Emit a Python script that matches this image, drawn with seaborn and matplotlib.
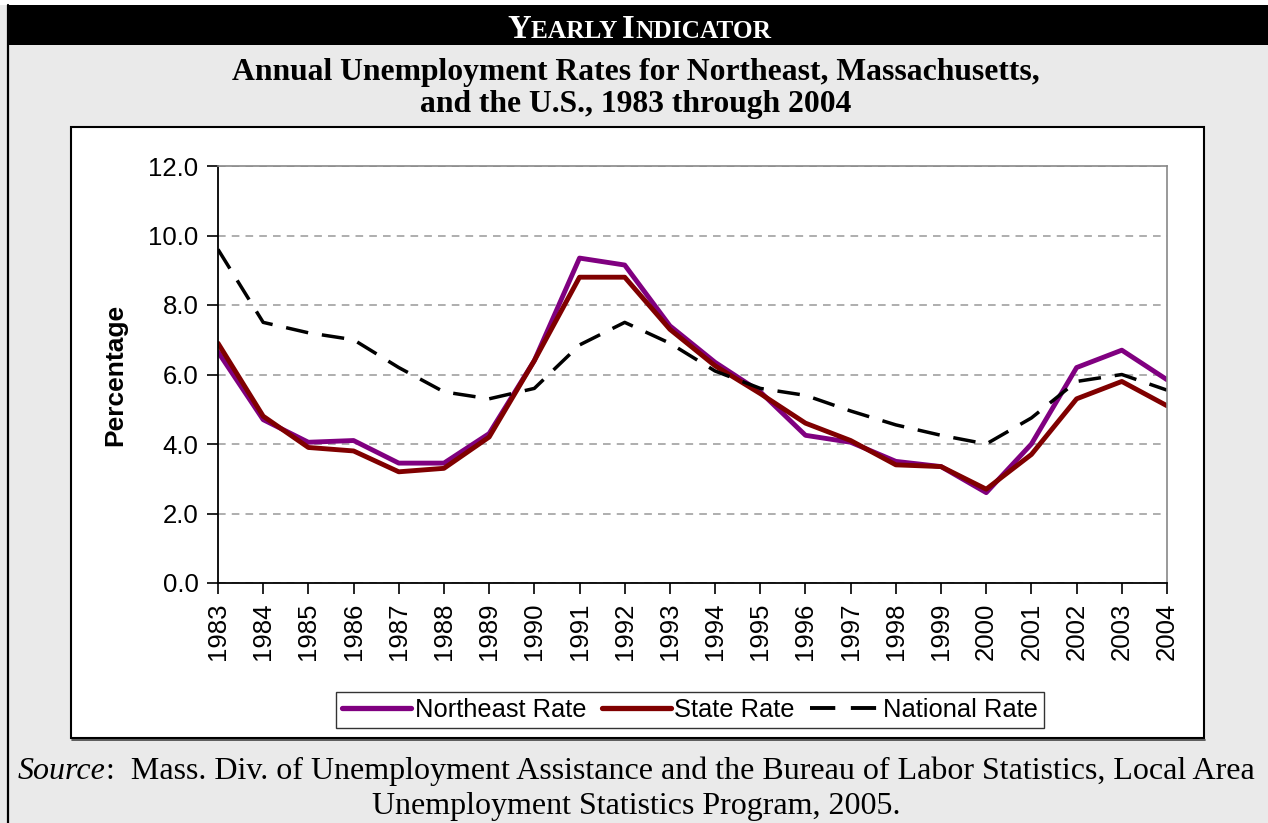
import matplotlib
matplotlib.use("Agg")
import matplotlib.pyplot as plt
from matplotlib.patches import Rectangle
from matplotlib.lines import Line2D
import seaborn as sns
import pandas as pd

# data
years = list(range(1983, 2005))
northeast = [6.65, 4.7, 4.05, 4.1, 3.45, 3.45, 4.3, 6.4, 9.35, 9.15, 7.4, 6.35, 5.5, 4.25,
             4.05, 3.5, 3.35, 2.6, 4.0, 6.2, 6.7, 5.85]
state = [6.9, 4.8, 3.9, 3.8, 3.2, 3.3, 4.2, 6.4, 8.8, 8.8, 7.3, 6.25, 5.45, 4.6,
         4.1, 3.4, 3.35, 2.7, 3.7, 5.3, 5.8, 5.1]
national = [9.6, 7.5, 7.2, 7.0, 6.2, 5.5, 5.3, 5.6, 6.85, 7.5, 6.9, 6.1, 5.6, 5.4,
            4.95, 4.55, 4.25, 4.0, 4.75, 5.8, 6.0, 5.55]
series_names = ["Northeast Rate", "State Rate", "National Rate"]
y_ticks = [0, 2, 4, 6, 8, 10, 12]

df = pd.DataFrame({"year": years * 3,
                   "rate": northeast + state + national,
                   "series": sum([[n] * len(years) for n in series_names], [])})

sns.set_style("white")
plt.rcParams["font.family"] = ["Liberation Sans", "DejaVu Sans"]
plt.rcParams.update({"text.color": "black", "axes.labelcolor": "black",
                     "xtick.color": "black", "ytick.color": "black"})

W, H = 1268, 823
fig = plt.figure(figsize=(W / 100, H / 100), dpi=100)
fig.patch.set_facecolor("#EAEAEA")


def px(x, y):
    return x / W, 1 - y / H


# frame pieces: white strip on top, black header bar, left rule, white chart box
fig.patches.append(Rectangle((0, 1 - 5 / H), 1, 5 / H, transform=fig.transFigure,
                             facecolor="white", edgecolor="none", zorder=0))
fig.patches.append(Rectangle(px(8, 45), 1 - 8 / W, 40 / H, transform=fig.transFigure,
                             facecolor="black", edgecolor="none", zorder=0))
fig.lines.append(Line2D([8 / W, 8 / W], [0, 1 - 5 / H], transform=fig.transFigure,
                        color="black", lw=1.6))
fig.patches.append(Rectangle(px(71, 738), (1204 - 71) / W, (738 - 127) / H,
                             transform=fig.transFigure, facecolor="white",
                             edgecolor="black", lw=1.5, zorder=0))
# slightly heavier shadow line under the box
fig.lines.append(Line2D([72 / W, 1205 / W], [1 - 739.5 / H, 1 - 739.5 / H],
                        transform=fig.transFigure, color="#444444", lw=1.2))

ax = fig.add_axes([218 / W, 1 - 583 / H, (1167 - 218) / W, (583 - 166) / H])
ax.set_zorder(3)
ax.set_facecolor("white")

palette = {"Northeast Rate": "#800080", "State Rate": "#800000", "National Rate": "black"}
sns.lineplot(data=df[df.series != "National Rate"], x="year", y="rate", hue="series",
             palette=palette, lw=3.5, ax=ax, legend=False)
sns.lineplot(data=df[df.series == "National Rate"], x="year", y="rate", color="black",
             lw=2.5, dashes=False, ax=ax, legend=False)
ax.lines[-1].set_dashes((6.5, 4))

ax.set_xlim(1983, 2004)
ax.set_ylim(0, 12)
ax.set_xticks(years)
ax.set_xticklabels([str(y) for y in years], rotation=90, fontsize=18.5)
ax.set_yticks(y_ticks)
ax.set_yticklabels([f"{v:.1f}" for v in y_ticks], fontsize=18.5)
ax.tick_params(axis="both", direction="out", length=8, width=1.2, color="black",
               left=True, bottom=True, pad=6)
ax.set_xlabel("")
ax.set_ylabel("Percentage", fontsize=19, fontweight="bold", labelpad=15)
ax.yaxis.grid(True, color="#999999", ls=(0, (5, 4)), lw=1.1)
ax.xaxis.grid(False)
ax.set_axisbelow(True)
for side in ["left", "bottom"]:
    ax.spines[side].set_color("black")
    ax.spines[side].set_linewidth(1.3)
for side in ["top", "right"]:
    ax.spines[side].set_color("#888888")
    ax.spines[side].set_linewidth(1.2)

handles = [Line2D([], [], color="#800080", lw=3.8),
           Line2D([], [], color="#800000", lw=3.8),
           Line2D([], [], color="black", lw=2.8, dashes=(6.5, 4))]
leg = fig.legend(handles, series_names, loc="center", bbox_to_anchor=px(690, 710),
                 ncol=3, fontsize=18.4, frameon=True, fancybox=False, handlelength=2.7,
                 handletextpad=0.15, columnspacing=0.6, borderpad=0.25)
leg.get_frame().set_edgecolor("black")
leg.get_frame().set_linewidth(1.0)
leg.set_zorder(4)

renderer = fig.canvas.get_renderer()


def pieces(parts, cx, baseline, left=None):
    # draw text runs side by side, centred on cx (or starting at left)
    texts = []
    for s, kw in parts:
        t = fig.text(0, 0, s, va="baseline", ha="left", transform=None, **kw)
        texts.append(t)
    widths = [t.get_window_extent(renderer).width for t in texts]
    x = left if left is not None else cx - sum(widths) / 2
    for t, w in zip(texts, widths):
        t.set_position((x, H - baseline))
        x += w


serif = ["Liberation Serif", "DejaVu Serif"]
big = dict(family=serif, fontweight="bold", fontsize=23.5, color="white")
small = dict(family=serif, fontweight="bold", fontsize=18.3, color="white")
pieces([("Y", big), ("EARLY ", small), ("I", big), ("NDICATOR", small)], 639, 38)

title_kw = dict(family=serif, fontweight="bold", fontsize=22.8, color="black")
pieces([("Annual Unemployment Rates for Northeast, Massachusetts,", title_kw)], 636, 80)
pieces([("and the U.S., 1983 through 2004", title_kw)], 636, 112)

src = dict(family=serif, fontsize=23, color="black")
src_it = dict(family=serif, fontsize=23, color="black", style="italic")
pieces([("Source", src_it), (":  Mass. Div. of Unemployment Assistance and the Bureau of "
                             "Labor Statistics, Local Area", src)], None, 779, left=18)
pieces([("Unemployment Statistics Program, 2005.", src)], 636, 814)

fig.savefig("out.png", dpi=100, facecolor=fig.get_facecolor())
